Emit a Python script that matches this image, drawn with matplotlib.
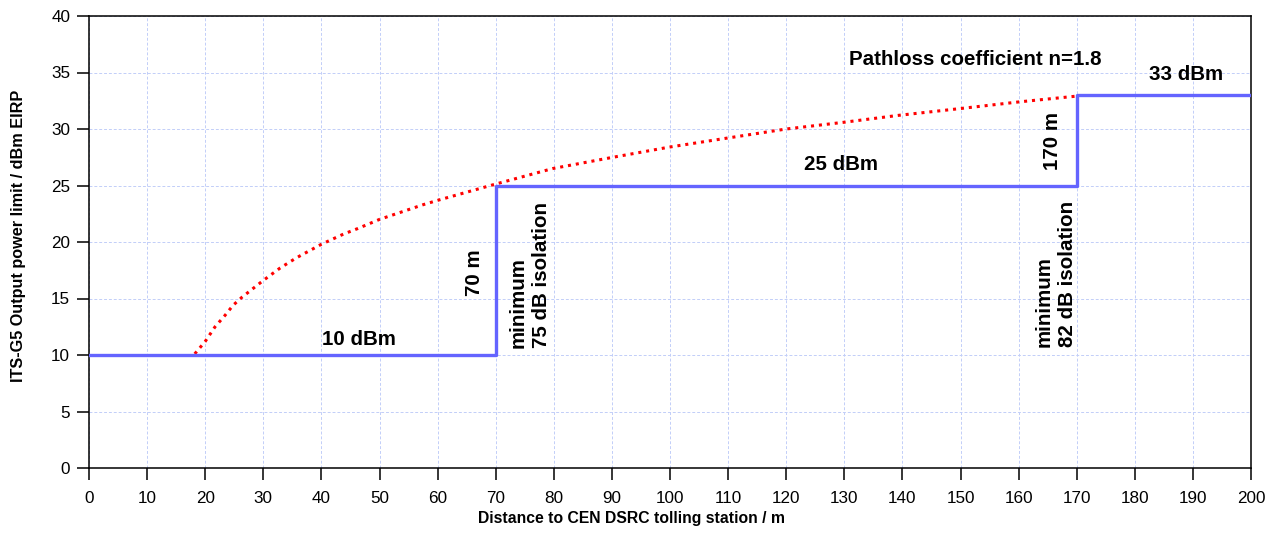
import numpy as np
import matplotlib as mpl
mpl.use('Agg')
import matplotlib.pyplot as plt

mpl.rcParams['font.family'] = 'Liberation Sans'

# Power limit steps (distance in m, limit in dBm EIRP)
step_dist = [0, 70, 70, 170, 170, 200]
step_power = [10, 10, 25, 25, 33, 33]

# Pathloss curve (n = 1.8)
curve_dist = [18.2, 20, 21.7, 23.4, 24.8, 26.3, 30, 32.9, 35.7, 40, 43.8, 46.3, 50,
              57.5, 60.1, 69.8, 79.8, 90.2, 99.9, 109.9, 120, 130, 139.2, 149.8,
              160.1, 169.8]
curve_power = [10.1, 11.2, 12.5, 13.5, 14.4, 15.1, 16.6, 17.7, 18.6, 19.8, 20.7, 21.2,
               22.0, 23.3, 23.7, 25.1, 26.5, 27.5, 28.4, 29.2, 30.0, 30.6, 31.2, 31.8,
               32.4, 32.9]

x_ticks = list(range(0, 201, 10))
y_ticks = list(range(0, 41, 5))

fig = plt.figure(figsize=(12.76, 5.4), dpi=100)
ax = fig.add_axes([89 / 1276, 1 - 468 / 540, (1251 - 89) / 1276, (468 - 16) / 540])

ax.plot(curve_dist, curve_power, color='#ff0000', lw=2.2, ls=(0, (1, 1.6)),
        dash_capstyle='butt', zorder=3)
ax.plot(step_dist, step_power, color='#6464ff', lw=2.4, zorder=4)

ax.set_xlim(0, 200)
ax.set_ylim(0, 40)
ax.set_xticks(x_ticks)
ax.set_yticks(y_ticks)
ax.tick_params(direction='out', length=8.5, width=1.1, labelsize=12.3)
ax.tick_params(axis='x', pad=8)
ax.tick_params(axis='y', pad=5)
for s in ax.spines.values():
    s.set_linewidth(1.1)
ax.grid(True, color='#c2cef8', ls=(0, (3, 2)), lw=0.7)
ax.set_axisbelow(True)

bold = dict(fontweight='bold', fontsize=14.8)
ax.text(46.4, 10.9, '10 dBm', ha='center', va='baseline', **bold)
ax.text(129.5, 26.4, '25 dBm', ha='center', va='baseline', **bold)
ax.text(188.8, 34.3, '33 dBm', ha='center', va='baseline', **bold)
ax.text(130.8, 35.7, 'Pathloss coefficient n=1.8', ha='left', va='baseline', **bold)
ax.text(66.3, 17.3, '70 m', rotation=90, ha='center', va='center', **bold)
ax.text(165.9, 28.9, '170 m', rotation=90, ha='center', va='center', **bold)
ax.text(75.9, 17.1, 'minimum\n75 dB isolation', rotation=90, ha='center', va='center',
        multialignment='left', linespacing=1.25, **bold)
ax.text(166.4, 17.2, 'minimum\n82 dB isolation', rotation=90, ha='center', va='center',
        multialignment='left', linespacing=1.25, **bold)

fig.text(631.7 / 1276, 1 - 518 / 540, 'Distance to CEN DSRC tolling station / m',
         ha='center', va='center', fontweight='bold', fontsize=11.3)
fig.text(18.5 / 1276, 1 - 236 / 540, 'ITS-G5 Output power limit / dBm EIRP',
         rotation=90, ha='center', va='center', fontweight='bold', fontsize=11.7)

fig.savefig('out.png', dpi=100)
